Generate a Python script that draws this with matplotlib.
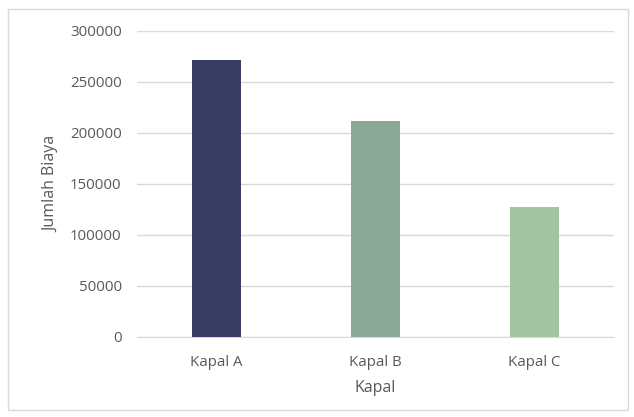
import matplotlib.pyplot as plt
from matplotlib.patches import Rectangle

# data
kapal = ['Kapal A', 'Kapal B', 'Kapal C']
biaya = [271000, 212000, 127000]
colors = ['#3a3d63', '#8ca898', '#a2c4a2']
yticks = [0, 50000, 100000, 150000, 200000, 250000, 300000]

plt.rcParams['font.family'] = ['Open Sans', 'DejaVu Sans']
text_color = '#595959'

fig = plt.figure(figsize=(6.34, 4.17), dpi=100)
ax = fig.add_axes([0.216, 0.192, 0.752, 0.734])

ax.bar(range(len(kapal)), biaya, width=0.31, color=colors, zorder=3)
ax.set_xlim(-0.5, 2.5)
ax.set_ylim(0, 300000)
ax.set_yticks(yticks)
ax.set_yticklabels([str(v) for v in yticks])
ax.set_xticks(range(len(kapal)))
ax.set_xticklabels(kapal)

ax.grid(axis='y', color='#d9d9d9', linewidth=1, zorder=0)
for s in ['top', 'right', 'left']:
    ax.spines[s].set_visible(False)
ax.spines['bottom'].set_color('#d9d9d9')
ax.tick_params(length=0, labelsize=10.8, colors=text_color)
ax.tick_params(axis='y', pad=11)
ax.tick_params(axis='x', pad=13)

ax.set_xlabel('Kapal', fontsize=11.5, color=text_color, labelpad=7)
ax.set_ylabel('Jumlah Biaya', fontsize=11.5, color=text_color, labelpad=8)

# outer chart border
fig.patches.append(Rectangle((8 / 634, 7 / 417), 620 / 634, 401 / 417,
                             transform=fig.transFigure, fill=False,
                             edgecolor='#d9d9d9', linewidth=1))

plt.savefig('out.png', dpi=100)
